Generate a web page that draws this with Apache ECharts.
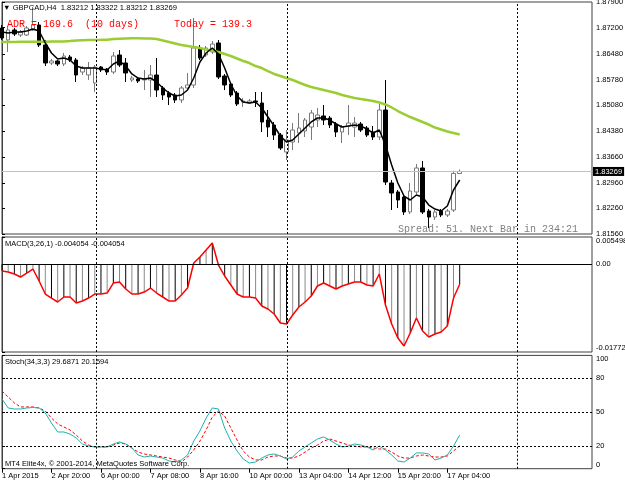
<!DOCTYPE html>
<html><head><meta charset="utf-8">
<script src="https://cdn.jsdelivr.net/npm/echarts@6/dist/echarts.min.js"></script>
<style>html,body{margin:0;padding:0;background:#fff}#c{width:625px;height:483px}</style>
</head><body><div id="c"></div>
<script>
// ---------------- DATA ----------------
const symbol = 'GBPCAD,H4';
const timeLabels = ['1 Apr 2015','2 Apr 20:00','6 Apr 00:00','7 Apr 08:00','8 Apr 16:00','10 Apr 00:00','13 Apr 04:00','14 Apr 12:00','15 Apr 20:00','17 Apr 04:00'];
const labelBars = [0,8,16,24,32,40,48,56,64,72];
// [open, close, low, high]
const candles = [
[1.87190,1.86916,1.86862,1.87272],[1.86862,1.87135,1.86534,1.87217],[1.87135,1.87026,1.86971,1.87190],
[1.86998,1.87080,1.86944,1.87135],[1.86998,1.87190,1.86971,1.87244],[1.87135,1.87272,1.87108,1.87764],
[1.87272,1.86725,1.86670,1.87354],[1.86725,1.86233,1.86151,1.86862],[1.86233,1.86288,1.86178,1.86342],
[1.86288,1.86206,1.86151,1.86315],[1.86206,1.86424,1.86151,1.86506],[1.86397,1.86315,1.86260,1.86452],
[1.86315,1.85905,1.85714,1.86370],[1.85987,1.86096,1.85905,1.86151],[1.85905,1.86096,1.85769,1.86260],
[1.85687,1.86124,1.85441,1.86178],[1.86124,1.86042,1.85987,1.86151],[1.86069,1.85987,1.85905,1.86096],
[1.85987,1.86424,1.85931,1.86534],[1.86452,1.86178,1.86124,1.86588],[1.86233,1.85960,1.85714,1.86370],
[1.85769,1.85823,1.85714,1.85878],[1.85796,1.85741,1.85687,1.85851],[1.85769,1.85796,1.85495,1.86042],
[1.85769,1.85905,1.85304,1.86178],[1.85905,1.85495,1.85304,1.86370],[1.85550,1.85359,1.85222,1.85605],
[1.85413,1.85304,1.85085,1.85468],[1.85359,1.85222,1.85140,1.85413],[1.85222,1.85550,1.85140,1.85605],
[1.85550,1.85632,1.85495,1.85960],[1.85632,1.86643,1.85550,1.87463],[1.86643,1.86370,1.86315,1.86725],
[1.86452,1.86643,1.86397,1.86698],[1.86534,1.86752,1.86479,1.86834],[1.86780,1.85851,1.85796,1.86862],
[1.85878,1.85632,1.85495,1.85931],[1.85659,1.85359,1.85304,1.85714],[1.85413,1.85113,1.85058,1.85468],
[1.85167,1.85195,1.85031,1.85277],[1.85140,1.85195,1.85113,1.85249],[1.85195,1.85167,1.85031,1.85441],
[1.85140,1.84621,1.84347,1.85441],[1.84675,1.84484,1.84211,1.84949],[1.84539,1.84265,1.84129,1.84621],
[1.84265,1.83910,1.83855,1.84320],[1.83801,1.84129,1.83582,1.84402],[1.84074,1.84402,1.83855,1.84593],
[1.84320,1.84457,1.84047,1.84867],[1.84375,1.84675,1.84211,1.84730],[1.84484,1.84867,1.84129,1.84949],
[1.84675,1.84812,1.84484,1.85003],[1.84785,1.84675,1.84539,1.85085],[1.84730,1.84539,1.84457,1.84785],
[1.84566,1.84347,1.84211,1.84621],[1.84347,1.84484,1.84047,1.84539],[1.84511,1.84593,1.84265,1.85085],
[1.84484,1.84593,1.84211,1.84757],[1.84566,1.84402,1.84347,1.84621],[1.84457,1.84265,1.84211,1.84511],
[1.84347,1.84211,1.84129,1.84511],[1.84211,1.84949,1.84129,1.85113],[1.84949,1.82981,1.82899,1.85769],
[1.82954,1.82680,1.82216,1.83036],[1.82708,1.82489,1.82270,1.82762],[1.82571,1.82161,1.82079,1.82626],
[1.82161,1.82735,1.82106,1.82954],[1.82708,1.83364,1.82653,1.83473],[1.83364,1.82161,1.82106,1.83555],
[1.82188,1.82024,1.81724,1.82243],[1.82024,1.82161,1.81942,1.82216],[1.82188,1.82079,1.82024,1.82243],
[1.82079,1.82188,1.82024,1.82243],[1.82216,1.83215,1.82161,1.83290],[1.83212,1.83269,1.83212,1.83322]
];
const maFast = [
1.87080,1.87053,1.87080,1.87080,1.87108,1.87162,1.87108,1.86780,1.86506,1.86342,
1.86370,1.86315,1.86151,1.86096,1.86096,1.86096,1.86069,1.86042,1.86206,1.86288,
1.86151,1.85933,1.85823,1.85796,1.85823,1.85714,1.85550,1.85413,1.85331,1.85359,
1.85495,1.85823,1.86260,1.86506,1.86643,1.86479,1.86096,1.85659,1.85331,1.85167,
1.85140,1.85167,1.85003,1.84757,1.84511,1.84238,1.84074,1.84129,1.84293,1.84457,
1.84621,1.84730,1.84730,1.84675,1.84566,1.84484,1.84511,1.84539,1.84511,1.84429,
1.84320,1.84402,1.83992,1.83445,1.82954,1.82598,1.82489,1.82626,1.82571,1.82352,
1.82243,1.82188,1.82325,1.82762,1.83036];
const maSlow = [
1.86807,1.86809,1.86810,1.86811,1.86812,1.86813,1.86815,1.86816,1.86818,1.86819,
1.86821,1.86834,1.86850,1.86858,1.86862,1.86864,1.86866,1.86870,1.86889,1.86898,
1.86903,1.86906,1.86906,1.86905,1.86900,1.86889,1.86848,1.86807,1.86766,1.86725,
1.86698,1.86670,1.86643,1.86602,1.86575,1.86534,1.86479,1.86424,1.86356,1.86288,
1.86233,1.86151,1.86096,1.86014,1.85933,1.85878,1.85823,1.85769,1.85700,1.85632,
1.85577,1.85536,1.85495,1.85454,1.85413,1.85359,1.85318,1.85277,1.85249,1.85222,
1.85195,1.85154,1.85099,1.85017,1.84921,1.84839,1.84757,1.84689,1.84621,1.84552,
1.84470,1.84416,1.84361,1.84320,1.84279];
const macd = [
-0.00137,-0.00158,-0.00198,-0.00259,-0.00178,-0.00097,-0.00339,-0.00602,-0.00683,-0.00763,
-0.00662,-0.00662,-0.00784,-0.00743,-0.00683,-0.00602,-0.00602,-0.00582,-0.00380,-0.00360,
-0.00501,-0.00602,-0.00602,-0.00562,-0.00481,-0.00582,-0.00662,-0.00743,-0.00743,-0.00622,
-0.00481,0.00024,0.00145,0.00287,0.00428,-0.00016,-0.00238,-0.00420,-0.00602,-0.00662,
-0.00662,-0.00683,-0.00844,-0.00905,-0.01006,-0.01188,-0.01208,-0.01026,-0.00864,-0.00763,
-0.00642,-0.00440,-0.00380,-0.00440,-0.00501,-0.00440,-0.00400,-0.00360,-0.00360,-0.00420,
-0.00440,-0.00198,-0.00824,-0.01208,-0.01491,-0.01652,-0.01390,-0.01087,-0.01349,-0.01470,
-0.01410,-0.01369,-0.01248,-0.00683,-0.004054];
const stochMain = [
61.5,53.6,52.7,52.7,53.6,54.0,53.6,49.2,40.3,32.4,32.4,30.6,27.1,21.8,20.0,19.2,19.2,19.2,21.8,23.6,
21.8,18.3,12.1,10.3,11.2,10.3,9.4,6.8,5.9,7.7,12.1,24.4,33.3,44.7,53.6,52.7,35.9,24.4,15.6,8.6,
5.0,5.9,9.4,12.1,13.0,11.2,8.6,10.3,15.6,19.2,22.7,26.2,28.0,25.3,21.8,19.2,20.0,21.8,20.9,19.2,
16.5,20.0,16.5,12.1,6.8,5.9,9.4,13.9,13.9,13.0,7.7,9.4,12.1,20.0,29.6871];
const stochSignal = [
68.6,63.3,58.0,54.5,54.5,54.5,53.6,50.9,44.7,39.5,36.8,34.2,29.7,24.4,20.9,19.2,19.2,19.2,20.9,22.7,
21.8,18.3,14.7,13.0,12.1,11.2,10.3,9.4,7.7,5.9,10.3,16.5,24.4,34.2,45.6,50.9,46.5,35.9,25.3,15.6,
10.3,7.7,7.7,10.3,11.2,11.2,9.4,9.4,11.2,14.7,18.3,20.9,24.4,26.2,24.4,22.7,20.9,20.0,19.2,19.2,
18.3,17.4,17.4,14.7,11.2,9.4,9.4,11.2,12.1,11.2,10.3,10.3,11.2,15.6,20.1594];
const priceTicks = [1.87900,1.87200,1.86480,1.85780,1.85080,1.84380,1.83660,1.82960,1.82260,1.81560];
const macdTicks = [-0.017728, 0, 0.005498];
const stochTicks = [0, 20, 50, 80, 100];
const stochLevels = [20, 50, 80];
const weekSeparators = [15.2, 46.1, 83.3];
const adrText = 'ADR = 169.6  (10 days)';
const todayText = 'Today = 139.3';
const spreadText = 'Spread: 51. Next Bar in 234:21';
const copyright = 'MT4 Elite4x, \u00A9 2001-2014, MetaQuotes Software Corp.';

// ---------------- CHART ----------------
const sans = '"Liberation Sans", Arial, "DejaVu Sans", sans-serif';
const mono = '"Liberation Mono", "DejaVu Sans Mono", monospace';
const XMAX = 95.39;
const last = candles[candles.length - 1];
const lastClose = last[1];
const idx = a => a.map((v, i) => [i, v]);
const dash = [2, 2];
const sepLines = weekSeparators.map(v => ({ xAxis: v }));
const markBase = { silent: true, symbol: ['none', 'none'], animation: false, precision: 6, label: { show: false } };

const gridCommon = { left: 2, width: 590, show: true, borderColor: '#404040', borderWidth: 1,
  backgroundColor: 'transparent', outerBoundsMode: 'none', containLabel: false };
const xCommon = (gi) => ({
  type: 'value', gridIndex: gi, min: 0, max: XMAX,
  axisLine: { show: false }, splitLine: { show: false },
  axisTick: { show: false }, axisLabel: { show: false }
});
const yCommon = (gi, min, max, ticks, fmt, labelExtra) => ({
  type: 'value', gridIndex: gi, position: 'right', min, max, scale: true,
  splitLine: { show: false },
  axisLine: { show: true, lineStyle: { color: '#404040' } },
  axisTick: { show: true, length: 3, customValues: ticks, lineStyle: { color: '#000' } },
  axisLabel: Object.assign({ customValues: ticks, formatter: fmt, margin: 4, color: '#000', fontSize: 7.5, fontFamily: sans }, labelExtra || {})
});
const edgeAlign = { verticalAlignMaxLabel: 'top', verticalAlignMinLabel: 'bottom' };

const option = {
  animation: false,
  backgroundColor: '#fff',
  grid: [
    Object.assign({ top: 2, height: 232 }, gridCommon),
    Object.assign({ top: 237, height: 115 }, gridCommon),
    Object.assign({ top: 355.4, height: 113.3 }, gridCommon)
  ],
  xAxis: [
    xCommon(0), xCommon(1),
    Object.assign(xCommon(2), {
      axisTick: { show: true, inside: false, length: 4, customValues: labelBars, lineStyle: { color: '#000' } },
      axisLabel: {
        show: true, customValues: labelBars, align: 'left', margin: 3,
        formatter: v => timeLabels[labelBars.indexOf(Math.round(v))] || '',
        color: '#000', fontSize: 7.5, fontFamily: sans
      }
    })
  ],
  yAxis: [
    yCommon(0, priceTicks[priceTicks.length - 1], priceTicks[0], priceTicks, v => v.toFixed(5)),
    yCommon(1, macdTicks[0], macdTicks[2], macdTicks, v => v === 0 ? '0.00' : v.toFixed(6), edgeAlign),
    yCommon(2, 0, 100, stochTicks, v => String(v), edgeAlign)
  ],
  series: [
    {
      type: 'candlestick', xAxisIndex: 0, yAxisIndex: 0,
      data: candles.map((c, i) => [i, c[0], c[1], c[2], c[3]]),
      encode: { x: 0, y: [1, 2, 3, 4] },
      barWidth: 4,
      itemStyle: { color: '#ffffff', borderColor: '#7a7a7a', color0: '#000000', borderColor0: '#000000', borderWidth: 1 },
      markLine: Object.assign({}, markBase, {
        lineStyle: { color: '#c0c0c0', type: 'solid', width: 1 },
        label: { show: true, position: 'end', distance: 1, formatter: p => Number(p.value).toFixed(5),
          backgroundColor: '#000', color: '#fff', fontSize: 7.5, fontFamily: sans, padding: [1, 2, 0, 2] },
        data: [{ yAxis: lastClose }]
      })
    },
    {
      type: 'line', xAxisIndex: 0, yAxisIndex: 0, data: idx(maSlow), symbol: 'none',
      lineStyle: { color: '#9acd32', width: 2.5 }, z: 3
    },
    {
      type: 'line', xAxisIndex: 0, yAxisIndex: 0, data: idx(maFast), symbol: 'none',
      lineStyle: { color: '#000', width: 1.5 }, z: 4,
      markLine: Object.assign({}, markBase, { lineStyle: { color: '#000', type: dash, width: 1 }, data: sepLines })
    },
    {
      type: 'bar', xAxisIndex: 1, yAxisIndex: 1, data: idx(macd), barWidth: 1,
      itemStyle: { color: p => (p.dataIndex % 2 ? '#8a8a8a' : '#000') }
    },
    {
      type: 'line', xAxisIndex: 1, yAxisIndex: 1, data: idx(macd), symbol: 'none',
      lineStyle: { color: '#ff0000', width: 1.5 }, z: 4,
      markLine: Object.assign({}, markBase, {
        data: [
          ...sepLines.map(d => Object.assign({ lineStyle: { color: '#000', type: dash, width: 1 } }, d)),
          { yAxis: 0, lineStyle: { color: '#000', type: 'solid', width: 1 } }
        ]
      })
    },
    {
      type: 'line', xAxisIndex: 2, yAxisIndex: 2, data: idx(stochSignal), symbol: 'none',
      lineStyle: { color: '#ff0000', width: 1, type: [3, 2] }, z: 3
    },
    {
      type: 'line', xAxisIndex: 2, yAxisIndex: 2, data: idx(stochMain), symbol: 'none',
      lineStyle: { color: '#20b2aa', width: 1 }, z: 4,
      markLine: Object.assign({}, markBase, {
        lineStyle: { color: '#000', type: dash, width: 1 },
        data: [...sepLines, ...stochLevels.map(v => ({ yAxis: v }))]
      })
    }
  ],
  graphic: [
    { type: 'text', x: 3, y: 7.5, z: 100, style: { text: '\u25BC ' + symbol + '  ' + [last[0], last[3], last[2], last[1]].map(v => v.toFixed(5)).join(' '),
      fill: '#000', fontSize: 7.6, fontFamily: sans, verticalAlign: 'middle' } },
    { type: 'text', x: 7, y: 24, z: 100, style: { text: adrText, fill: '#ff0000', fontSize: 10, fontFamily: mono, verticalAlign: 'middle' } },
    { type: 'text', x: 174, y: 24, z: 100, style: { text: todayText, fill: '#ff0000', fontSize: 10, fontFamily: mono, verticalAlign: 'middle' } },
    { type: 'text', x: 398, y: 229, z: 100, style: { text: spreadText, fill: '#808080', fontSize: 10, fontFamily: mono, verticalAlign: 'middle' } },
    { type: 'text', x: 5, y: 243.5, z: 100, style: { text: 'MACD(3,26,1) ' + macd[macd.length - 1].toFixed(6) + ' ' + macd[macd.length - 1].toFixed(6),
      fill: '#000', fontSize: 7.5, fontFamily: sans, verticalAlign: 'middle' } },
    { type: 'text', x: 5, y: 361.5, z: 100, style: { text: 'Stoch(34,3,3) ' + stochMain[stochMain.length - 1].toFixed(4) + ' ' + stochSignal[stochSignal.length - 1].toFixed(4),
      fill: '#000', fontSize: 7.5, fontFamily: sans, verticalAlign: 'middle' } },
    { type: 'text', x: 5, y: 463.5, z: 100, style: { text: copyright, fill: '#000', fontSize: 7.5, fontFamily: sans, verticalAlign: 'middle' } }
  ]
};
const chart = echarts.init(document.getElementById('c'), null, { renderer: 'canvas' });
chart.setOption(option);
</script></body></html>
